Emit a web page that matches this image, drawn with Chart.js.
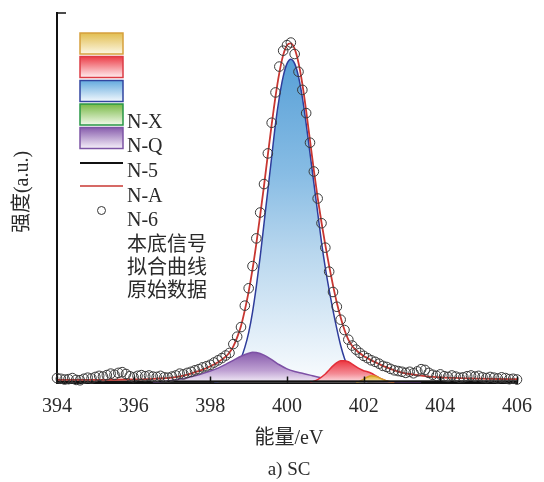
<!DOCTYPE html>
<html>
<head>
<meta charset="utf-8">
<script src="https://cdn.jsdelivr.net/npm/chart.js@4.4.1/dist/chart.umd.min.js"></script>
<style>
  html, body { margin: 0; padding: 0; background: #fff; }
  canvas { display: block; }
</style>
</head>
<body>
<canvas id="xps" width="544" height="482"></canvas>
<script>
// N1s spectrum of sample SC: raw counts, fitted envelope, background and five nitrogen components.

// Raw data: binding energy grid 394.0 .. 406.0 eV, step 0.1 eV
const rawStart = 394.0;
const rawStep = 0.1;
const rawV = [
  1.2, 1.0, 0.8, 0.9, 1.2, 0.7, 0.6, 1.0, 1.3, 1.1,
  1.5, 1.8, 1.6, 2.0, 2.4, 2.1, 2.6, 2.8, 2.3, 1.7,
  1.4, 1.8, 2.0, 1.7, 1.9, 1.6, 1.5, 1.8, 1.4, 1.3,
  1.6, 1.9, 2.4, 2.2, 2.6, 2.9, 3.3, 3.6, 4.1, 4.4,
  4.8, 5.4, 6.0, 6.6, 7.3, 8.0, 10.4, 12.4, 15.0, 20.8,
  25.5, 31.5, 39.0, 46.0, 53.7, 62.0, 70.3, 78.5, 85.5, 89.8,
  91.3, 92.0, 88.9, 84.1, 79.2, 72.9, 64.9, 57.1, 49.8, 43.1,
  36.5, 30.0, 24.5, 20.5, 17.0, 14.2, 11.6, 10.0, 8.9, 8.0,
  7.2, 6.6, 6.0, 5.6, 5.1, 4.5, 4.2, 3.7, 3.3, 3.1,
  2.9, 2.6, 2.9, 2.5, 3.0, 3.6, 3.4, 2.6, 2.1, 1.8,
  2.2, 1.7, 1.5, 1.9, 1.6, 1.3, 1.4, 1.7, 1.9, 1.6,
  1.8, 1.4, 1.2, 1.5, 1.3, 1.1, 1.4, 1.2, 0.9, 1.0,
  0.8
];

// Fitted envelope (拟合曲线)
const fitE = [394.0, 394.5, 395.0, 395.5, 396.0, 396.5, 396.8, 397.0, 397.2, 397.4,
  397.6, 397.8, 398.0, 398.2, 398.4, 398.5, 398.6, 398.7, 398.8, 398.9,
  399.0, 399.1, 399.2, 399.3, 399.4, 399.5, 399.6, 399.7, 399.8, 399.9,
  400.0, 400.1, 400.2, 400.3, 400.4, 400.5, 400.6, 400.7, 400.8, 400.9,
  401.0, 401.1, 401.2, 401.3, 401.4, 401.5, 401.6, 401.7, 401.8, 401.9,
  402.0, 402.1, 402.2, 402.3, 402.4, 402.5, 402.6, 402.7, 402.8, 402.9,
  403.0, 403.2, 403.4, 403.6, 403.8, 404.0, 404.5, 405.0, 405.5, 406.0];
const fitV = [0.7, 0.7, 0.7, 0.75, 0.85, 1.0, 1.15, 1.3, 1.65, 2.15,
  2.8, 3.5, 4.4, 5.5, 7.0, 8.1, 9.8, 12.2, 15.3, 19.6,
  24.6, 30.6, 37.6, 45.2, 53.2, 61.6, 69.8, 77.4, 83.8, 88.6,
  91.3, 91.8, 90.3, 86.5, 80.8, 73.5, 65.5, 57.5, 50.0, 43.3,
  37.2, 31.5, 26.3, 21.6, 17.6, 14.2, 11.6, 9.9, 8.8, 7.9,
  7.2, 6.6, 6.0, 5.5, 5.0, 4.5, 4.1, 3.7, 3.3, 3.0,
  2.7, 2.3, 2.0, 1.75, 1.55, 1.4, 1.2, 1.05, 0.95, 0.9];

// Background (本底信号)
const bgE = [394.0, 406.0];
const bgV = [0.25, 0.35];

// N-5 component
const n5E = [398.1, 398.2, 398.3, 398.4, 398.5, 398.6, 398.7, 398.8, 398.9, 399.0,
  399.1, 399.2, 399.3, 399.4, 399.5, 399.6, 399.7, 399.8, 399.9, 400.0,
  400.1, 400.2, 400.3, 400.4, 400.5, 400.6, 400.7, 400.8, 400.9, 401.0,
  401.1, 401.2, 401.3, 401.4, 401.5, 401.6, 401.7, 401.8, 401.9, 402.0, 402.1];
const n5V = [0, 0.2, 0.5, 1.0, 1.7, 2.8, 4.3, 6.5, 9.5, 13.5,
  19, 26, 34, 43, 52, 61, 70, 77.2, 82.8, 86.3,
  87.5, 86.3, 82.8, 77.2, 70, 62, 54, 46, 38, 31,
  25, 19.5, 14.5, 10, 6.5, 4, 2.3, 1.3, 0.6, 0.3, 0];

// N-6 component
const n6E = [396.5, 396.8, 397.0, 397.2, 397.4, 397.6, 397.8, 398.0, 398.2, 398.4,
  398.6, 398.8, 399.0, 399.1, 399.2, 399.4, 399.6, 399.8, 400.0, 400.2,
  400.4, 400.6, 400.8, 401.0, 401.3, 401.6, 402.0, 402.5, 403.0, 403.5];
const n6V = [0, 0.3, 0.6, 0.9, 1.3, 1.8, 2.4, 3.1, 3.9, 4.9,
  6.0, 7.1, 7.9, 8.2, 8.1, 7.4, 6.2, 4.8, 3.7, 3.0,
  2.5, 2.0, 1.5, 1.1, 0.8, 0.6, 0.4, 0.2, 0.1, 0];

// N-Q component
const nqE = [400.6, 400.8, 401.0, 401.1, 401.2, 401.3, 401.4, 401.5, 401.6, 401.7,
  401.8, 401.9, 402.0, 402.1, 402.2, 402.3, 402.4, 402.5, 402.6, 402.8];
const nqV = [0, 0.8, 2.3, 3.4, 4.5, 5.4, 5.9, 5.9, 5.6, 5.0,
  4.3, 3.7, 3.2, 2.9, 2.5, 1.9, 1.3, 0.8, 0.4, 0];

// N-X component
const nxE = [401.8, 401.9, 402.0, 402.1, 402.2, 402.3, 402.4, 402.5, 402.6, 402.7, 402.8];
const nxV = [0, 0.3, 0.9, 1.5, 1.8, 1.7, 1.3, 0.8, 0.4, 0.1, 0];

// N-A component (no visible contribution)
const naE = [];
const naV = [];

const xTicks = [394, 396, 398, 400, 402, 404, 406];

const pts = (es, vs) => es.map((e, i) => ({ x: e, y: vs[i] }));
const rawPts = rawV.map((v, i) => ({ x: +(rawStart + i * rawStep).toFixed(1), y: v }));

const SERIF = '"Liberation Serif", "Times New Roman", "Noto Sans CJK SC", serif';
const TEXT = '#2a2a2a';

// Vertical gradient that runs from a component's peak down to the baseline
function peakFill(stops, values) {
  return (ctx) => {
    const chart = ctx.chart;
    if (!chart.chartArea) return stops[0][1];
    const y = chart.scales.y;
    const peak = values.length ? Math.max(...values) : 1;
    const g = chart.ctx.createLinearGradient(0, y.getPixelForValue(peak), 0, y.getPixelForValue(0));
    stops.forEach(([o, col]) => g.addColorStop(o, col));
    return g;
  };
}

const comp = (label, es, vs, line, stops, order) => ({
  label, data: pts(es, vs), order,
  borderColor: line, borderWidth: 1.5,
  backgroundColor: peakFill(stops, vs),
  fill: 'origin', pointRadius: 0, cubicInterpolationMode: 'monotone'
});

const legendRows = [
  { kind: 'box', top: 'rgb(226,190,80)', bottom: 'rgb(252,247,228)', line: 'rgb(214,160,60)' },
  { kind: 'box', top: 'rgb(236,60,70)', bottom: 'rgb(255,238,240)', line: 'rgb(220,60,70)' },
  { kind: 'box', top: 'rgb(100,170,222)', bottom: 'rgb(242,248,253)', line: 'rgb(50,70,160)' },
  { kind: 'box', top: 'rgb(120,185,70)', bottom: 'rgb(242,249,234)', line: 'rgb(40,150,70)' },
  { kind: 'box', top: 'rgb(135,92,172)', bottom: 'rgb(246,240,250)', line: 'rgb(125,85,165)' },
  { kind: 'line', color: '#111' },
  { kind: 'line', color: 'rgb(200,55,50)' },
  { kind: 'dot' }
];
const legendLabels = ['N-X', 'N-Q', 'N-5', 'N-A', 'N-6', '本底信号', '拟合曲线', '原始数据'];

const decor = {
  id: 'decor',
  afterDraw(chart) {
    const c = chart.ctx;
    const xs = chart.scales.x;
    const a = chart.chartArea;
    c.save();
    // inward ticks
    c.strokeStyle = '#111';
    c.lineWidth = 1.5;
    xTicks.forEach(t => {
      const px = Math.round(xs.getPixelForValue(t)) + 0.5;
      c.beginPath(); c.moveTo(px, a.bottom); c.lineTo(px, a.bottom - 6); c.stroke();
    });
    c.beginPath(); c.moveTo(a.left, a.top); c.lineTo(a.left + 9, a.top); c.stroke();

    // legend symbols
    const bx = 80, bw = 43;
    const boxTops = [33, 56.5, 80.5, 104, 127.5];
    legendRows.forEach((r, i) => {
      if (r.kind === 'box') {
        const t = boxTops[i];
        const g = c.createLinearGradient(0, t, 0, t + 21);
        g.addColorStop(0, r.top); g.addColorStop(1, r.bottom);
        c.fillStyle = g;
        c.fillRect(bx, t, bw, 21);
        c.strokeStyle = r.line; c.lineWidth = 1.5;
        c.strokeRect(bx, t, bw, 21);
      } else if (r.kind === 'line') {
        const y = i === 5 ? 163 : 186;
        c.strokeStyle = r.color; c.lineWidth = i === 5 ? 2 : 1.5;
        c.beginPath(); c.moveTo(bx, y); c.lineTo(bx + bw, y); c.stroke();
      } else {
        c.strokeStyle = '#333'; c.lineWidth = 1;
        c.beginPath(); c.arc(101.5, 210.5, 4, 0, Math.PI * 2); c.stroke();
      }
    });

    // legend labels
    c.fillStyle = TEXT;
    c.textAlign = 'left';
    c.textBaseline = 'middle';
    const labelY = [123, 147, 172, 197, 221, 246, 269, 292];
    c.font = '20px ' + SERIF;
    legendLabels.forEach((s, i) => c.fillText(s, 127, labelY[i]));

    // axis titles and caption
    c.textAlign = 'center';
    c.font = '20px ' + SERIF;
    c.fillText('能量/eV', 289, 439);
    c.font = '19px ' + SERIF;
    c.fillText('a) SC', 289, 470);
    c.translate(23, 192);
    c.rotate(-Math.PI / 2);
    c.font = '20px ' + SERIF;
    c.fillText('强度(a.u.)', 0, 0);
    c.restore();
  }
};

new Chart(document.getElementById('xps'), {
  type: 'line',
  data: {
    datasets: [
      { label: '原始数据', data: rawPts, order: 0, showLine: false, clip: false,
        pointRadius: 4.8, pointBorderWidth: 1, pointBorderColor: '#3a3a3a',
        pointBackgroundColor: 'rgba(0,0,0,0)', borderColor: '#3a3a3a' },
      { label: '拟合曲线', data: pts(fitE, fitV), order: 1, borderColor: 'rgb(200,55,50)',
        borderWidth: 1.8, pointRadius: 0, fill: false, cubicInterpolationMode: 'monotone' },
      { label: '本底信号', data: pts(bgE, bgV), order: 2, borderColor: '#111',
        borderWidth: 2, pointRadius: 0, fill: false },
      comp('N-A', naE, naV, 'rgb(40,150,70)',
        [[0, 'rgb(120,185,70)'], [1, 'rgb(242,249,234)']], 3),
      comp('N-X', nxE, nxV, 'rgb(214,160,40)',
        [[0, 'rgb(226,176,48)'], [1, 'rgb(250,238,200)']], 4),
      comp('N-Q', nqE, nqV, 'rgb(226,48,58)',
        [[0, 'rgb(236,54,64)'], [0.6, 'rgb(244,140,150)'], [1, 'rgb(253,228,232)']], 5),
      comp('N-6', n6E, n6V, 'rgb(125,80,165)',
        [[0, 'rgb(135,90,172)'], [0.6, 'rgb(190,160,210)'], [1, 'rgb(244,238,248)']], 6),
      comp('N-5', n5E, n5V, 'rgb(46,60,155)',
        [[0, 'rgb(88,160,215)'], [0.35, 'rgb(135,188,228)'], [0.6, 'rgb(185,215,238)'], [1, 'rgb(250,252,254)']], 7)
    ]
  },
  options: {
    responsive: false,
    devicePixelRatio: 1,
    animation: false,
    layout: { padding: { left: 0, right: 24, top: 13, bottom: 0 } },
    plugins: { legend: { display: false }, tooltip: { enabled: false } },
    scales: {
      x: {
        type: 'linear', min: 394, max: 406,
        afterFit(s) { s.height = 99.5; },
        afterBuildTicks(s) { s.ticks = xTicks.map(v => ({ value: v })); },
        grid: { display: false, drawTicks: false },
        border: { display: true, color: '#111', width: 3 },
        ticks: { padding: 12, color: TEXT, font: { family: SERIF, size: 20 }, maxRotation: 0 }
      },
      y: {
        min: 0, max: 100,
        afterFit(s) { s.width = 57; },
        grid: { display: false, drawTicks: false },
        border: { display: true, color: '#111', width: 2 },
        ticks: { display: false }
      }
    }
  },
  plugins: [decor]
});
</script>
</body>
</html>
